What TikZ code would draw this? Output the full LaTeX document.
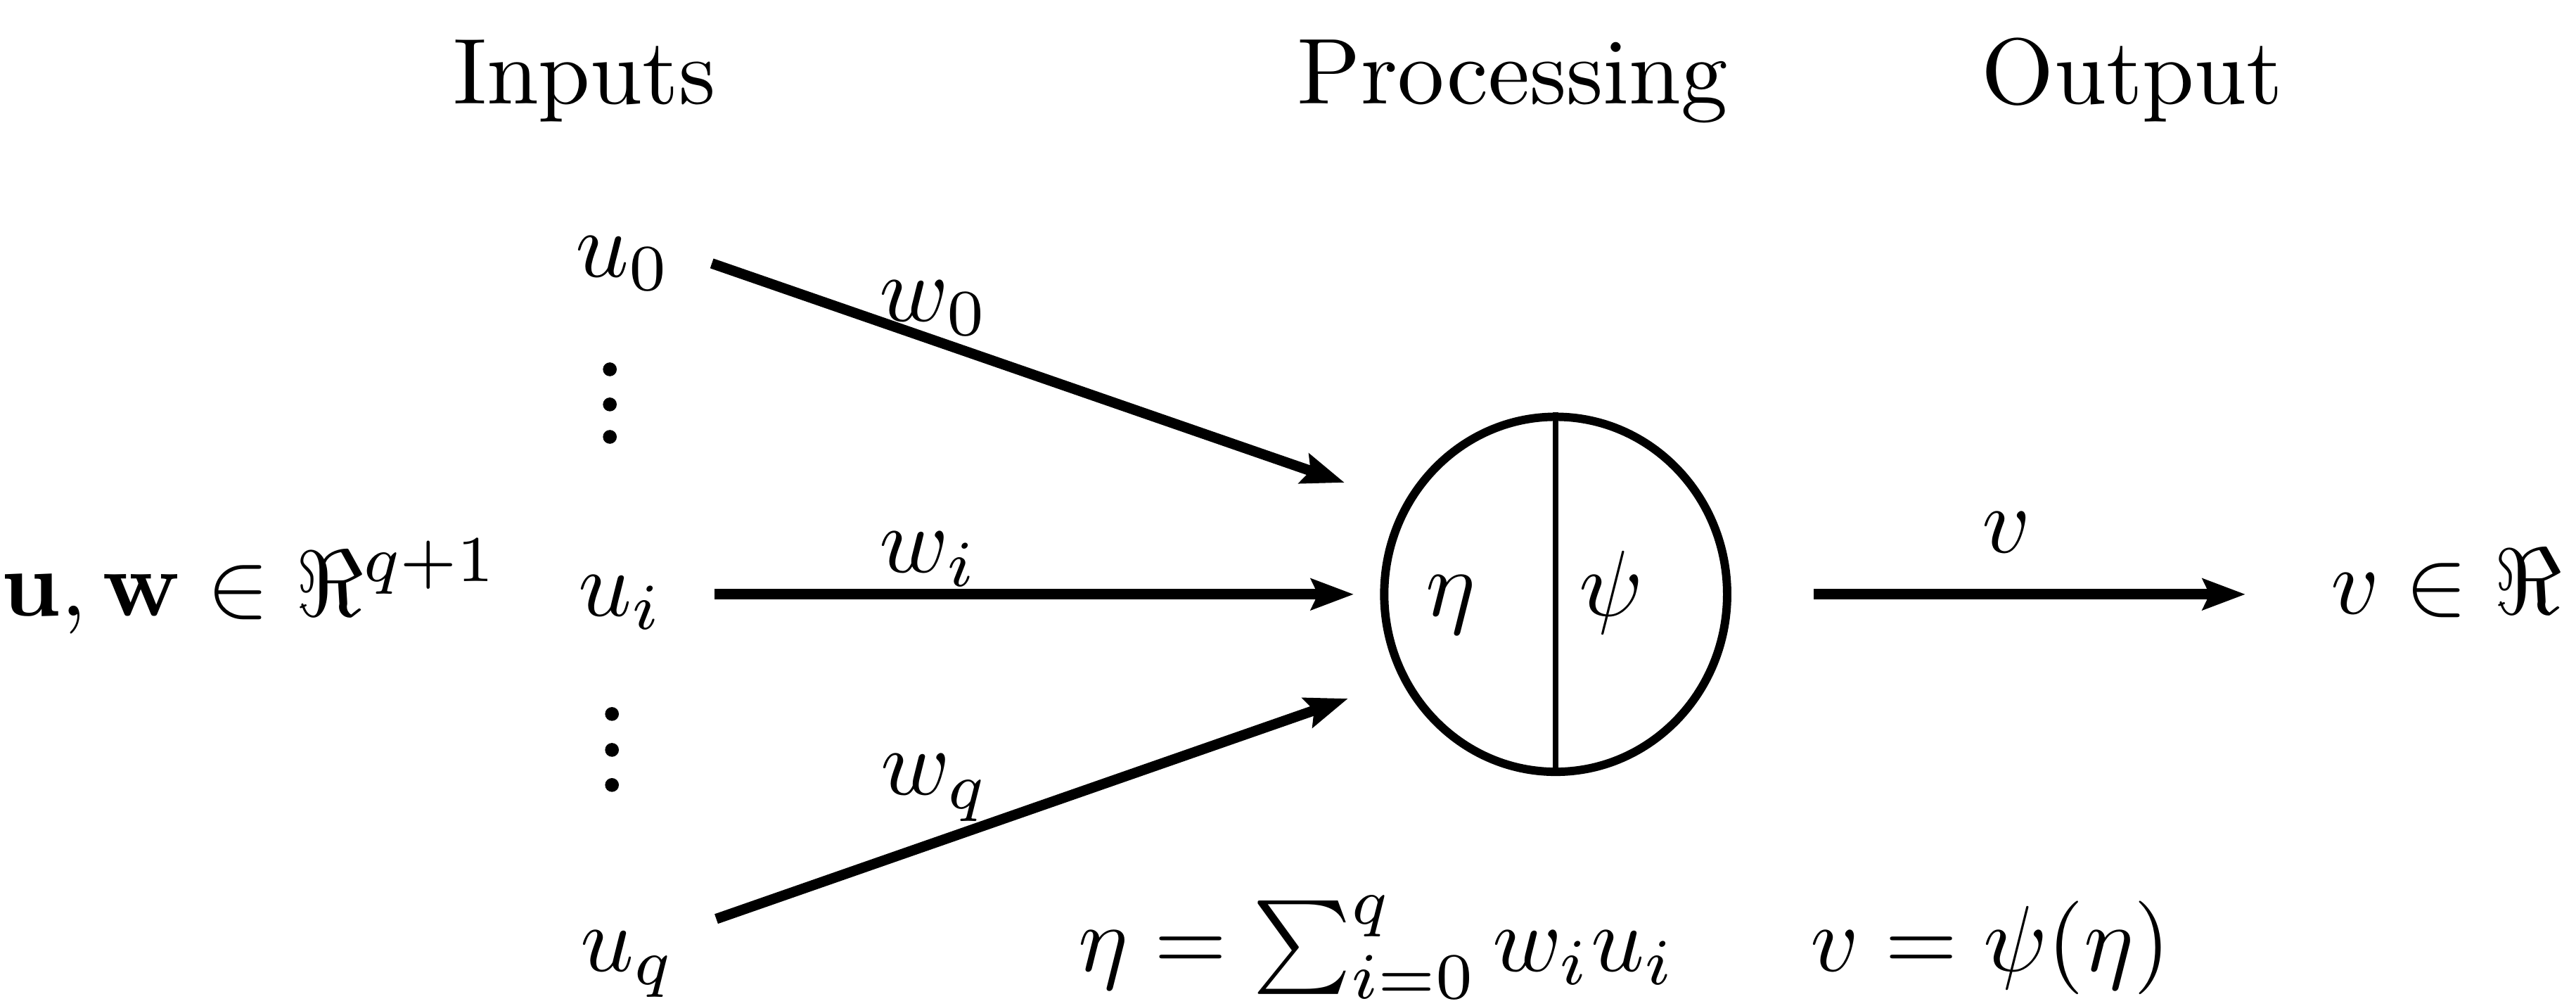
\documentclass[tikz,border=0pt]{standalone}
\usepackage{amsmath, amssymb}
\usepackage{tikz}
\usetikzlibrary{shapes.geometric, arrows.meta, positioning, calc}

\begin{document}
\begin{tikzpicture}[
  node distance=0.2cm,
  arr/.style={-{Stealth[length=1.6mm, width=1.15mm, inset=0.25mm]}, line width=1.1pt},
  title/.style={anchor=base},
  sym/.style={anchor=base},
  wlab/.style={anchor=base west},
  neuron/.style={ellipse, draw, line width=0.9pt, minimum width=1.29cm, minimum height=1.335cm, inner sep=0pt},
]
  \useasboundingbox (0,0) rectangle (9.69,3.783);

  % Column titles
  \node[title] (tin) at (2.198,3.392) {Inputs};
  \node[title] (tproc) at (5.69,3.392) {Processing};
  \node[title] (tout) at (8.021,3.392) {Output};

  % Inputs
  \node[sym] (u0) at (2.344,2.743) {$u_0$};
  \node[sym] (ui) at (2.334,1.468) {$u_i$};
  \node[sym] (uq) at (2.362,0.132) {$u_q$};
  \node[base left=0.05cm of ui] (vec) {$\mathbf{u},\mathbf{w}\in\Re^{q+1}$};

  % Vertical dots between the inputs
  \foreach \y in {2.394, 2.262, 2.140}
    \fill (2.294,\y) circle (0.026);
  \foreach \y in {1.098, 0.963, 0.831}
    \fill (2.302,\y) circle (0.026);

  % Neuron
  \node[neuron] (cell) at (5.852,1.548) {};
  \draw[line width=0.6pt] (cell.north) -- (cell.south);
  \node[sym] (eta) at (5.458,1.468) {$\eta$};
  \node[sym] (psi) at (6.06,1.468) {$\psi$};

  % Weighted inputs
  \coordinate (tip0) at (5.058,1.968);
  \coordinate (tipi) at (5.093,1.548);
  \coordinate (tipq) at (5.071,1.156);
  \draw[arr] (u0.east) ++(0.03,0) -- (tip0);
  \draw[arr] (ui.east |- tipi) ++(0.07,0) -- (tipi);
  \draw[arr] (uq.east) ++(0.03,0.17) -- (tipq);
  \node[wlab] (w0) at (3.185,2.574) {$w_0$};
  \node[wlab] (wi) at (3.185,1.630) {$w_i$};
  \node[wlab] (wq) at (3.19,0.794) {$w_q$};

  % Output
  \coordinate (vout) at (8.447,1.548);
  \draw[arr] (cell.east) ++(0.31,0) -- (vout);
  \node[sym] (vlab) at (7.548,1.704) {$v$};
  \node[anchor=base west] (res) at (8.645,1.474) {$v\in\Re$};

  % Equations
  \node[sym] (sumeq) at (5.18,0.132) {$\eta=\sum_{i=0}^q w_iu_i$};
  \node[sym] (veq) at (7.487,0.132) {$v=\psi(\eta)$};
\end{tikzpicture}
\end{document}
